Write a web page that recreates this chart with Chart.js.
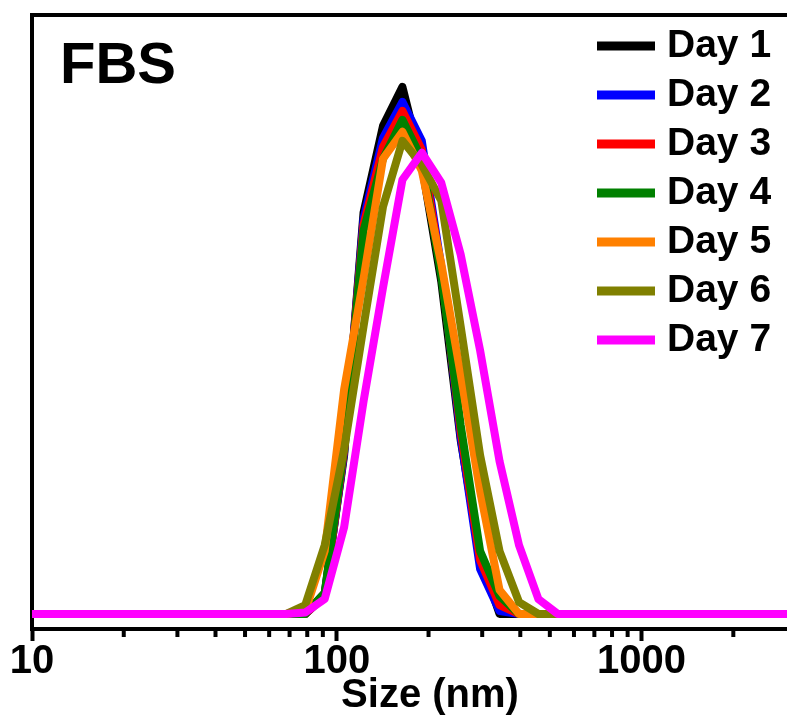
<!DOCTYPE html>
<html>
<head>
<meta charset="utf-8">
<script src="https://cdn.jsdelivr.net/npm/chart.js@4.4.0/dist/chart.umd.min.js"></script>
<style>
  html, body { margin: 0; padding: 0; background: #fff; }
  #wrap { width: 787px; height: 717px; }
</style>
</head>
<body>
<div id="wrap"><canvas id="SizeChart" width="787" height="717"></canvas></div>
<script>
// DLS size bins (nm)
const sizes = [8.721, 10.10, 11.70, 13.54, 15.69, 18.17, 21.04, 24.36, 28.21, 32.67,
  37.84, 43.82, 50.75, 58.77, 68.06, 78.82, 91.28, 105.7, 122.4, 141.8,
  164.2, 190.1, 220.2, 255.0, 295.3, 342.0, 396.1, 458.7, 531.2, 615.1,
  712.4, 825.0, 955.4, 1106, 1281, 1484, 1718, 1990, 2305, 2669, 3091];

// intensity (%) per bin
const day1 = [0,0,0,0,0,0,0,0,0,0, 0,0,0,0,0,0,0.7,5.3,13.4,16.3, 17.6,15.0,11.1,5.8,1.9,0,0,0,0,0, 0,0,0,0,0,0,0,0,0,0,0];
const day2 = [0,0,0,0,0,0,0,0,0,0, 0,0,0,0,0,0,0.6,5.4,13.2,15.9, 17.1,15.8,11.6,5.9,1.5,0.1,0,0,0,0, 0,0,0,0,0,0,0,0,0,0,0];
const day3 = [0,0,0,0,0,0,0,0,0,0, 0,0,0,0,0,0,0.6,5.5,13.0,15.6, 16.8,15.5,11.5,6.1,1.8,0.3,0,0,0,0, 0,0,0,0,0,0,0,0,0,0,0];
const day4 = [0,0,0,0,0,0,0,0,0,0, 0,0,0,0,0,0,0.7,5.6,12.8,15.2, 16.5,15.2,11.3,6.3,2.1,0.6,0,0,0,0, 0,0,0,0,0,0,0,0,0,0,0];
const day5 = [0,0,0,0,0,0,0,0,0,0, 0,0,0,0,0,0.1,2.1,7.5,11.2,15.2, 16.1,14.8,11.7,8.0,4.1,0.8,0,0,0,0, 0,0,0,0,0,0,0,0,0,0,0];
const day6 = [0,0,0,0,0,0,0,0,0,0, 0,0,0,0,0,0.3,2.3,5.5,9.6,13.6, 15.8,15.0,13.8,9.6,5.3,2.1,0.4,0,0,0, 0,0,0,0,0,0,0,0,0,0,0];
const day7 = [0,0,0,0,0,0,0,0,0,0, 0,0,0,0,0,0.05,0.5,2.9,7.1,10.9, 14.5,15.4,14.4,12.0,8.8,5.1,2.3,0.5,0,0, 0,0,0,0,0,0,0,0,0,0,0];

const seriesNames = ["Day 1", "Day 2", "Day 3", "Day 4", "Day 5", "Day 6", "Day 7"];
const seriesColors = ["#000000", "#0000ff", "#ff0000", "#008000", "#ff8000", "#808000", "#ff00ff"];
const seriesValues = [day1, day2, day3, day4, day5, day6, day7];

const majorTicks = [10, 100, 1000];
const minorTicks = [20, 30, 40, 50, 60, 70, 80, 90, 200, 300, 400, 500, 600, 700, 800, 900, 2000];

const FONT = "'Liberation Sans', Arial, sans-serif";

// frame, minor ticks, axis title, panel label and legend
const decor = {
  id: "decor",
  afterDraw(chart) {
    const { ctx, chartArea } = chart;
    const xs = chart.scales.x;
    ctx.save();
    ctx.strokeStyle = "#000";
    ctx.lineWidth = 4;
    ctx.beginPath();
    ctx.moveTo(chartArea.left - 2, chartArea.top);
    ctx.lineTo(chartArea.right, chartArea.top);
    ctx.stroke();

    minorTicks.forEach(v => {
      const px = xs.getPixelForValue(v);
      ctx.beginPath();
      ctx.moveTo(px, chartArea.bottom);
      ctx.lineTo(px, chartArea.bottom + 8);
      ctx.stroke();
    });

    ctx.fillStyle = "#000";
    ctx.textAlign = "center";
    ctx.textBaseline = "alphabetic";
    ctx.font = "bold 40px " + FONT;
    ctx.fillText("Size (nm)", 430, 707);

    ctx.textAlign = "left";
    ctx.font = "bold 58px " + FONT;
    ctx.fillText("FBS", chartArea.left + 28, chartArea.top + 68);

    ctx.font = "bold 39px " + FONT;
    ctx.textBaseline = "middle";
    chart.data.datasets.forEach((ds, i) => {
      const y = 46 + i * 49;
      ctx.strokeStyle = ds.borderColor;
      ctx.lineWidth = 9;
      ctx.beginPath();
      ctx.moveTo(597, y);
      ctx.lineTo(655, y);
      ctx.stroke();
      ctx.fillText(ds.label, 667, y);
    });
    ctx.restore();
  }
};

new Chart(document.getElementById("SizeChart").getContext("2d"), {
  type: "line",
  data: {
    datasets: seriesNames.map((name, i) => ({
      label: name,
      data: sizes.map((s, j) => ({ x: s, y: seriesValues[i][j] })),
      borderColor: seriesColors[i],
      backgroundColor: seriesColors[i],
      borderWidth: 8,
      borderJoinStyle: "round",
      pointRadius: 0,
      tension: 0,
      order: 7 - i,
    })),
  },
  options: {
    responsive: false,
    animation: false,
    layout: { padding: { left: 32, top: 15, right: 0, bottom: 34 } },
    plugins: {
      legend: { display: false },
      tooltip: { enabled: false },
    },
    scales: {
      x: {
        type: "logarithmic",
        min: 10,
        max: 3000,
        afterBuildTicks: (scale) => {
          scale.ticks = majorTicks.map(v => ({ value: v, major: true }));
        },
        ticks: {
          color: "#000",
          font: { family: FONT, size: 40, weight: "bold", lineHeight: 1 },
          padding: 1,
          maxRotation: 0,
          autoSkip: false,
          callback: (v) => String(v),
        },
        grid: {
          drawOnChartArea: false,
          drawTicks: true,
          tickLength: 12,
          tickWidth: 4,
          tickColor: "#000",
        },
        border: { display: true, color: "#000", width: 4 },
      },
      y: {
        min: -0.5,
        max: 20,
        ticks: { display: false },
        grid: { display: false, drawTicks: false },
        border: { display: true, color: "#000", width: 4 },
      },
    },
  },
  plugins: [decor],
});
</script>
</body>
</html>
